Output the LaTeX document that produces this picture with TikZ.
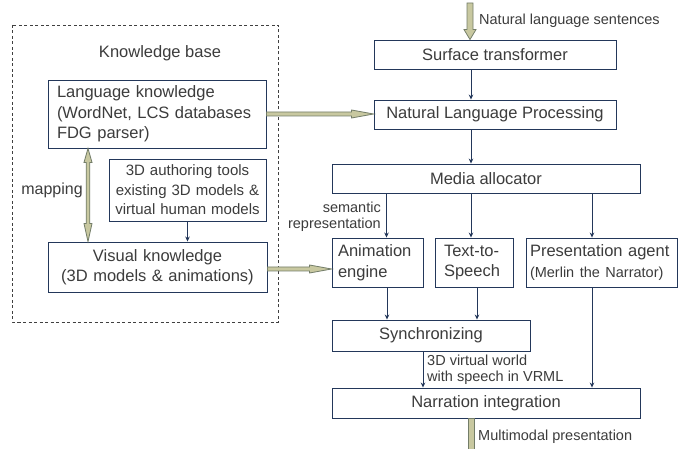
\documentclass[tikz,border=0pt]{standalone}
\usepackage{fontspec}
\setmainfont{Liberation Sans}
\usetikzlibrary{calc,arrows.meta}
\definecolor{txt}{RGB}{60,60,60}
\definecolor{navy}{RGB}{35,55,90}
\definecolor{fatfill}{RGB}{200,200,160}
\definecolor{fatdraw}{RGB}{115,125,105}
\begin{document}
\begin{tikzpicture}[x=1pt,y=-1pt,
  box/.style={draw=navy, line width=0.9pt, text=txt, font=\fontsize{16.5}{20.5}\selectfont, inner sep=0pt},
  lbl/.style={text=txt, font=\fontsize{14.5}{16.5}\selectfont, inner sep=0pt},
  arr/.style={draw=navy, line width=0.9pt, -{Stealth[length=5pt,width=4.5pt]}},
  fat/.style={fill=fatfill, draw=fatdraw, line width=0.8pt, line join=miter}]
\useasboundingbox (0,0) rectangle (686,449);
\fill[white] (0,0) rectangle (686,449);

% knowledge base frame
\draw[dashed, dash pattern=on 3pt off 2.5pt, draw=black!75, line width=0.7pt] (12,25) rectangle (278,322);
\node[lbl, font=\fontsize{16.5}{20}\selectfont] (kb) at (160,53) {Knowledge base};

% boxes
\node[box, minimum width=218pt, minimum height=68pt, text width=200pt, align=left] (lk) at (157,114)
  {Language knowledge\\(WordNet, LCS databases\\FDG parser)};
\node[box, minimum width=157pt, minimum height=62pt, text width=150pt, align=center,
  font=\fontsize{15}{19.5}\selectfont] (auth) at (187.5,190)
  {3D authoring tools\\existing 3D models \&\\virtual human models};
\node[box, minimum width=219pt, minimum height=50pt, text width=210pt, align=center] (vk) at (157.5,267)
  {Visual knowledge\\(3D models \& animations)};

\node[box, minimum width=242pt, minimum height=29pt] (surf) at (495,54.5) {Surface transformer};
\node[box, minimum width=242pt, minimum height=29pt] (nlp) at (495,114.5) {Natural Language Processing};
\node[box, minimum width=308pt, minimum height=29pt] (media) at (486,178.5) {Media allocator};
\node[box, minimum width=91pt, minimum height=49pt, text width=79pt, align=left] (anim) at (377.5,262.5)
  {Animation\\engine};
\node[box, minimum width=78pt, minimum height=49pt, text width=60pt, align=left] (tts) at (474,262.5)
  {Text-to-\\Speech};
\node[box, minimum width=151pt, minimum height=49pt, text width=143pt, align=left] (pres) at (601.5,262.5)
  {Presentation agent\\{\fontsize{14.5}{20.5}\selectfont (Merlin the Narrator)}};
\node[box, minimum width=198pt, minimum height=31pt] (sync) at (431,335.5) {Synchronizing};
\node[box, minimum width=308pt, minimum height=30pt] (narr) at (486,403) {Narration integration};

% labels
\node[lbl, anchor=west] (lin) at (479,21) {Natural language sentences};
\node[lbl, anchor=west] (lout) at (478,437) {Multimodal presentation};
\node[lbl, anchor=east, align=right] (lsem) at (381,217) {semantic\\representation};
\node[lbl, anchor=west, align=left] (lvrml) at (427,369.5) {3D virtual world\\with speech in VRML};
\node[lbl, font=\fontsize{16}{20}\selectfont] (lmap) at (52,190) {mapping};

% thin arrows
\draw[arr] ([xshift=-24pt]surf.south) -- ([xshift=-24pt]nlp.north);
\draw[arr] ([xshift=-24pt]nlp.south) -- ([xshift=-24pt]nlp.south |- media.north);
\draw[arr] ([xshift=9pt]anim.north |- media.south) -- ([xshift=9pt]anim.north);
\draw[arr] ([xshift=-3pt]tts.north |- media.south) -- ([xshift=-3pt]tts.north);
\draw[arr] ([xshift=-9.5pt]pres.north |- media.south) -- ([xshift=-9.5pt]pres.north);
\draw[arr] ([xshift=9.5pt]anim.south) -- ([xshift=9.5pt]anim.south |- sync.north);
\draw[arr] ([xshift=3pt]tts.south) -- ([xshift=3pt]tts.south |- sync.north);
\draw[arr] ([xshift=-8pt]sync.south) -- ([xshift=-8pt]sync.south |- narr.north);
\draw[arr] ([xshift=-9.5pt]pres.south) -- ([xshift=-9.5pt]pres.south |- narr.north);
\draw[arr] (auth.south) -- (auth.south |- vk.north);

% fat arrows
\coordinate (a1) at (lk.east);
\coordinate (b1) at (lk.east -| nlp.west);
\draw[fat] ($(a1)+(0,-2)$) -- ($(b1)+(-22,-2)$) -- ($(b1)+(-22,-4)$) -- (b1) -- ($(b1)+(-22,4)$) -- ($(b1)+(-22,2)$) -- ($(a1)+(0,2)$) -- cycle;

\coordinate (a2) at ([yshift=-2pt]vk.east);
\coordinate (b2) at (a2 -| anim.west);
\draw[fat] ($(a2)+(0,-2)$) -- ($(b2)+(-22,-2)$) -- ($(b2)+(-22,-4)$) -- (b2) -- ($(b2)+(-22,4)$) -- ($(b2)+(-22,2)$) -- ($(a2)+(0,2)$) -- cycle;

\coordinate (a3) at ([xshift=-69pt]lk.south);
\coordinate (b3) at (a3 |- vk.north);
\draw[fat] (a3) -- ($(a3)+(-4,14)$) -- ($(a3)+(-1.8,14)$) -- ($(b3)+(-1.8,-18)$) -- ($(b3)+(-4,-18)$) -- (b3)
  -- ($(b3)+(4,-18)$) -- ($(b3)+(1.8,-18)$) -- ($(a3)+(1.8,14)$) -- ($(a3)+(4,14)$) -- cycle;

\coordinate (a4) at (470,3);
\coordinate (b4) at ([xshift=-25pt]surf.north);
\draw[fat] ($(a4)+(-3,0)$) -- ($(b4)+(-3,-10)$) -- ($(b4)+(-6,-10)$) -- (b4) -- ($(b4)+(6,-10)$) -- ($(b4)+(3,-10)$) -- ($(a4)+(3,0)$) -- cycle;

\coordinate (a5) at ([xshift=-15pt]narr.south);
\coordinate (b5) at (471,452);
\draw[fat] ($(a5)+(-3,0)$) -- ($(b5)+(-3,0)$) -- ($(b5)+(3,0)$) -- ($(a5)+(3,0)$) -- cycle;
\end{tikzpicture}
\end{document}
